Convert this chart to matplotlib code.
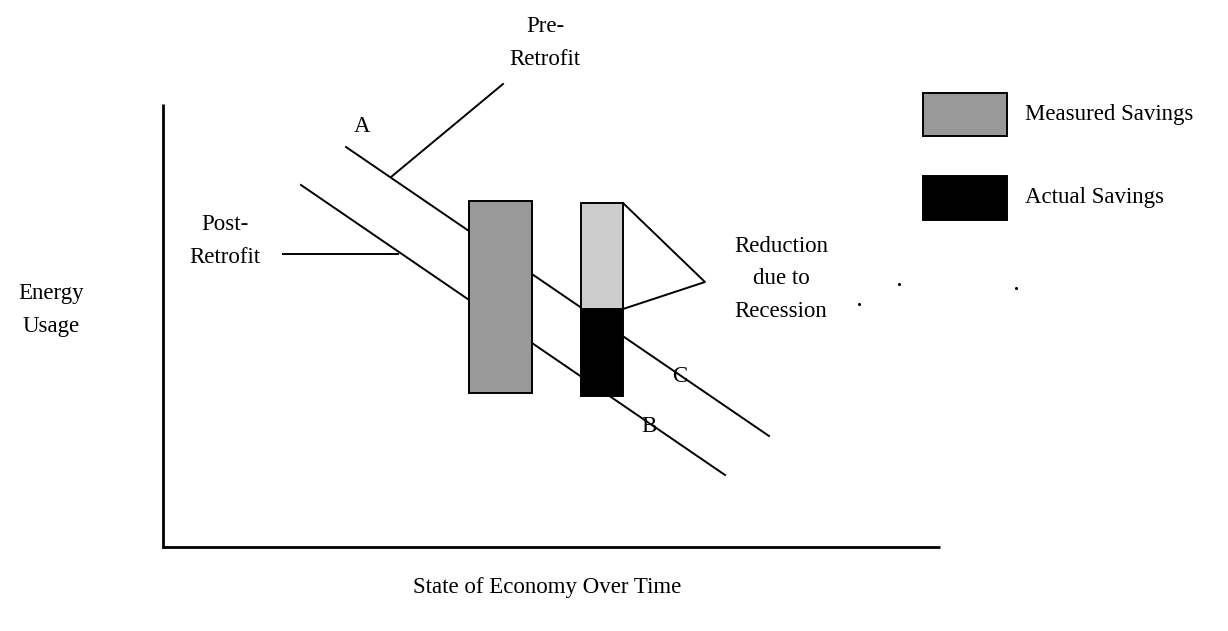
import matplotlib
matplotlib.use("Agg")
import matplotlib.pyplot as plt
from matplotlib.patches import Rectangle

plt.rcParams['font.family'] = ['Liberation Serif', 'DejaVu Serif']

# --- diagram data (canvas units, y grows downward) ---
axis_x = [163, 163, 940]
axis_y = [104, 547, 547]

line_a_x = [346, 769]   # Pre-Retrofit baseline (A -> C)
line_a_y = [147, 436]
line_b_x = [301, 725]   # Post-Retrofit (B)
line_b_y = [185, 475]

pre_leader_x = [391, 503]
pre_leader_y = [177, 84]
post_leader_x = [283, 398]
post_leader_y = [254, 254]

tri_x = [623, 705, 623]
tri_y = [203, 282, 309]

measured_bar = dict(x0=469, x1=532, top=201, bottom=393)
stack_x = [581, 623]
recession_part = [203, 309]
actual_part = [309, 396]

legend_boxes = [(923, 93, 1007, 136, '#999999', 'Measured Savings'),
                (923, 176, 1007, 220, '#000000', 'Actual Savings')]

dots_x = [899, 859, 1016]
dots_y = [284, 304, 288]

labels = [
    (545, 43, 'Pre-\nRetrofit'),
    (225, 241, 'Post-\nRetrofit'),
    (51, 310, 'Energy\nUsage'),
    (781, 279, 'Reduction\ndue to\nRecession'),
    (362, 126, 'A'),
    (680, 377, 'C'),
    (649, 427, 'B'),
    (547, 587, 'State of Economy Over Time'),
]

W, H = 1228, 631
fig = plt.figure(figsize=(W / 100, H / 100), dpi=100)
ax = fig.add_axes([0, 0, 1, 1])
ax.set_xlim(0, W)
ax.set_ylim(H, 0)
ax.axis('off')

fs = 16.5
lw = 1.4
ax.plot(axis_x, axis_y, color='black', lw=2.0, solid_capstyle='butt', solid_joinstyle='miter')
ax.plot(line_a_x, line_a_y, color='black', lw=lw, zorder=1)
ax.plot(line_b_x, line_b_y, color='black', lw=lw, zorder=1)
ax.plot(pre_leader_x, pre_leader_y, color='black', lw=lw)
ax.plot(post_leader_x, post_leader_y, color='black', lw=lw)
ax.plot(tri_x, tri_y, color='black', lw=lw)

mb = measured_bar
ax.add_patch(Rectangle((mb['x0'], mb['top']), mb['x1'] - mb['x0'], mb['bottom'] - mb['top'],
                       facecolor='#999999', edgecolor='black', lw=1.4, zorder=3))
ax.add_patch(Rectangle((stack_x[0], recession_part[0]), stack_x[1] - stack_x[0],
                       recession_part[1] - recession_part[0],
                       facecolor='#cccccc', edgecolor='black', lw=1.4, zorder=3))
ax.add_patch(Rectangle((stack_x[0], actual_part[0]), stack_x[1] - stack_x[0],
                       actual_part[1] - actual_part[0],
                       facecolor='black', edgecolor='black', lw=1.4, zorder=3))

for x0, y0, x1, y1, c, txt in legend_boxes:
    ax.add_patch(Rectangle((x0, y0), x1 - x0, y1 - y0, facecolor=c, edgecolor='black', lw=1.4))
    ax.text(1025, (y0 + y1) / 2, txt, ha='left', va='center', fontsize=fs)

ax.scatter(dots_x, dots_y, s=1.5, color='black')

for x, y, t in labels:
    ax.text(x, y, t, ha='center', va='center', fontsize=fs, linespacing=1.72, zorder=4)

fig.savefig('out.png', dpi=100)
